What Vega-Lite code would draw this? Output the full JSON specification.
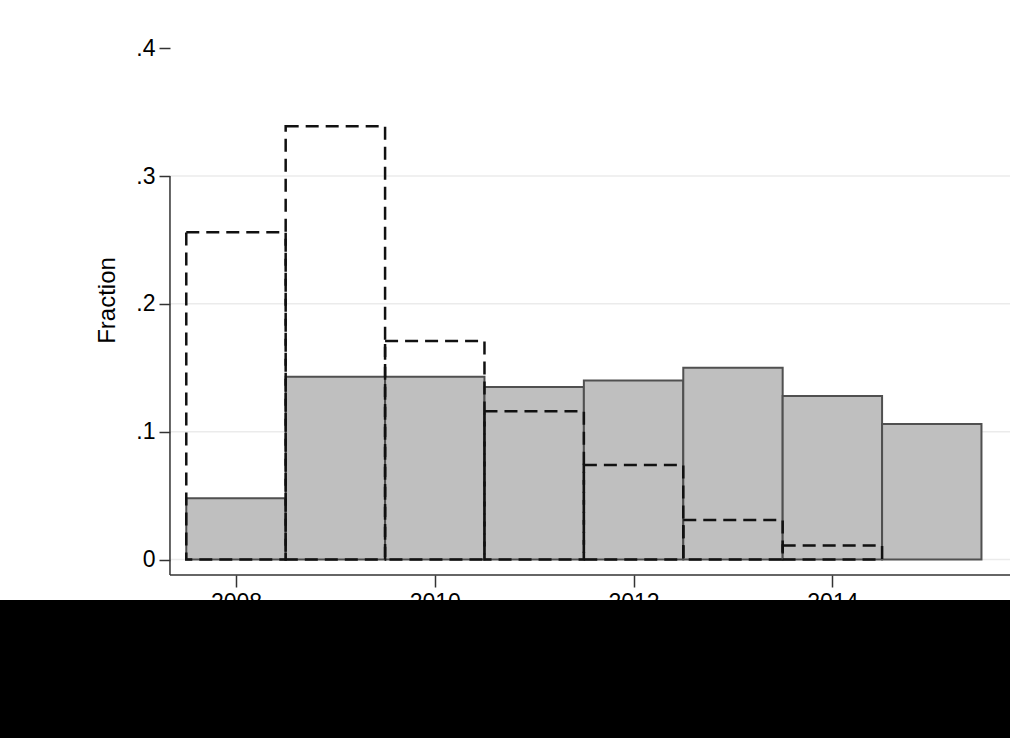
{
  "$schema": "https://vega.github.io/schema/vega-lite/v6.json",
  "padding": 0,
  "background": "white",
  "spacing": 0,
  "bounds": "flush",
  "config": {"font": "Liberation Sans", "view": {"stroke": null}},
  "vconcat": [
    {
      "width": 1010,
      "height": 600,
      "data": {
        "values": [
          {"year": 2008, "bin_start": 2007.5, "bin_end": 2008.5, "group": "gray", "fraction": 0.048},
          {"year": 2009, "bin_start": 2008.5, "bin_end": 2009.5, "group": "gray", "fraction": 0.143},
          {"year": 2010, "bin_start": 2009.5, "bin_end": 2010.5, "group": "gray", "fraction": 0.143},
          {"year": 2011, "bin_start": 2010.5, "bin_end": 2011.5, "group": "gray", "fraction": 0.135},
          {"year": 2012, "bin_start": 2011.5, "bin_end": 2012.5, "group": "gray", "fraction": 0.140},
          {"year": 2013, "bin_start": 2012.5, "bin_end": 2013.5, "group": "gray", "fraction": 0.150},
          {"year": 2014, "bin_start": 2013.5, "bin_end": 2014.5, "group": "gray", "fraction": 0.128},
          {"year": 2015, "bin_start": 2014.5, "bin_end": 2015.5, "group": "gray", "fraction": 0.106},
          {"year": 2008, "bin_start": 2007.5, "bin_end": 2008.5, "group": "dashed", "fraction": 0.256},
          {"year": 2009, "bin_start": 2008.5, "bin_end": 2009.5, "group": "dashed", "fraction": 0.339},
          {"year": 2010, "bin_start": 2009.5, "bin_end": 2010.5, "group": "dashed", "fraction": 0.171},
          {"year": 2011, "bin_start": 2010.5, "bin_end": 2011.5, "group": "dashed", "fraction": 0.116},
          {"year": 2012, "bin_start": 2011.5, "bin_end": 2012.5, "group": "dashed", "fraction": 0.074},
          {"year": 2013, "bin_start": 2012.5, "bin_end": 2013.5, "group": "dashed", "fraction": 0.031},
          {"year": 2014, "bin_start": 2013.5, "bin_end": 2014.5, "group": "dashed", "fraction": 0.011}
        ]
      },
      "layer": [
        {
          "data": {"values": [{"gridline": 0}, {"gridline": 0.1}, {"gridline": 0.2}, {"gridline": 0.3}]},
          "mark": {"type": "rule", "color": "#ebebeb", "strokeWidth": 1.5},
          "encoding": {
            "x": {"datum": 2007.336, "type": "quantitative"},
            "x2": {"datum": 2015.787},
            "y": {"field": "gridline", "type": "quantitative"}
          }
        },
        {
          "transform": [{"filter": "datum.group === 'gray'"}],
          "mark": {"type": "rect", "fill": "#bfbfbf", "stroke": "#505050", "strokeWidth": 2},
          "encoding": {
            "x": {
              "field": "bin_start", "type": "quantitative",
              "scale": {"domain": [2005.626, 2015.787], "nice": false, "zero": false},
              "axis": {
                "values": [2008, 2010, 2012, 2014], "format": "d", "title": null,
                "domain": false, "offset": -25, "tickSize": 12, "tickColor": "#333333", "tickWidth": 1.5,
                "labelFontSize": 23, "labelPadding": 4, "labelColor": "black", "grid": false
              }
            },
            "x2": {"field": "bin_end"},
            "y": {
              "field": "fraction", "type": "quantitative",
              "scale": {"domain": [-0.03168, 0.4377], "nice": false, "zero": false},
              "axis": {
                "values": [0, 0.1, 0.2, 0.3, 0.4],
                "labelExpr": "datum.value == 0 ? '0' : replace(format(datum.value, '.1f'), '0.', '.')",
                "title": "Fraction", "titleFontSize": 24, "titleFontWeight": "normal", "titleColor": "black",
                "titlePadding": 16, "domain": false, "offset": -170, "tickSize": 11, "tickColor": "#333333", "tickWidth": 1.5,
                "labelFontSize": 23, "labelPadding": 4, "labelColor": "black", "grid": false
              }
            },
            "y2": {"datum": 0}
          }
        },
        {
          "transform": [{"filter": "datum.group === 'dashed'"}],
          "mark": {"type": "rect", "fillOpacity": 0, "stroke": "#111111", "strokeWidth": 2.5, "strokeDash": [13, 7]},
          "encoding": {
            "x": {"field": "bin_start", "type": "quantitative"},
            "x2": {"field": "bin_end"},
            "y": {"field": "fraction", "type": "quantitative"},
            "y2": {"datum": 0}
          }
        },
        {
          "data": {"values": [{}]},
          "mark": {"type": "rule", "color": "#333333", "strokeWidth": 1.5},
          "encoding": {
            "x": {"datum": 2007.336, "type": "quantitative"},
            "y": {"datum": -0.01213, "type": "quantitative"},
            "y2": {"datum": 0.3}
          }
        },
        {
          "data": {"values": [{}]},
          "mark": {"type": "rule", "color": "#333333", "strokeWidth": 1.5},
          "encoding": {
            "x": {"datum": 2007.336, "type": "quantitative"},
            "x2": {"datum": 2015.787},
            "y": {"datum": -0.01213, "type": "quantitative"}
          }
        }
      ]
    },
    {
      "width": 1010,
      "height": 138,
      "data": {"values": [{}]},
      "mark": {"type": "point", "opacity": 0},
      "encoding": {},
      "view": {"fill": "black", "stroke": null}
    }
  ]
}
